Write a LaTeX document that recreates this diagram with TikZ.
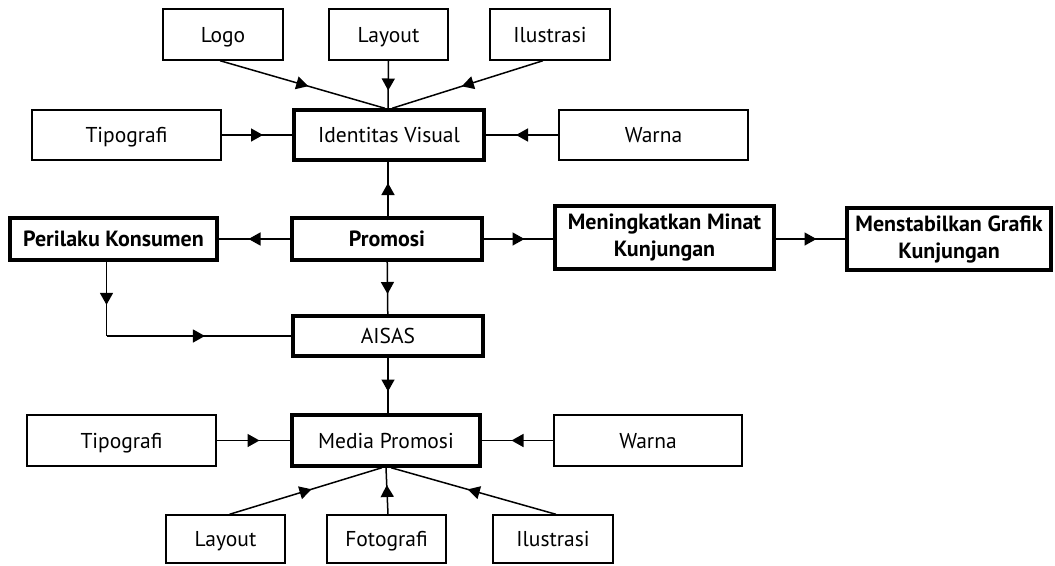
\documentclass[tikz,border=0pt]{standalone}
\usepackage{fontspec}
\setmainfont{PT Sans}
\usetikzlibrary{arrows.meta,decorations.markings}

\newlength{\du}
\setlength{\du}{1pt}

\tikzset{
  base/.style={draw, inner sep=0pt, align=center,
    font=\fontsize{21.5}{27}\selectfont},
  oneline/.style={text height=17pt, text depth=2pt},
  box/.style={base, oneline, line width=1.4\du},
  heavybox/.style={base, oneline, line width=3.4\du},
  keybox/.style={heavybox, font=\fontsize{22}{27}\selectfont\bfseries},
  stackbox/.style={base, line width=3.4\du, font=\fontsize{22}{27}\selectfont\bfseries},
  dims/.style 2 args={minimum width=#1\du, minimum height=#2\du},
  link/.style={line width=1.5\du},
  midarrow/.style={link, postaction={decorate}, decoration={markings,
    mark=at position 0.5 with {\arrow[xshift=6pt]{Triangle[length=12pt,width=13pt]}}}}
}

\begin{document}
\begin{tikzpicture}[x=\du,y=-\du]
\useasboundingbox (0,0) rectangle (1055,565);

% upper group
\node[heavybox, dims={190}{50}] (iv) at (389,135) {Identitas Visual};
\node[box, dims={120}{51}] (logo) at (223,34.5) {Logo};
\node[box, dims={119}{51}] (layoutA) at (388.5,34.5) {Layout};
\node[box, dims={120}{51}] (ilusA) at (550,34.5) {Ilustrasi};
\node[box, dims={189}{50}] (tipoA) at (126.5,135) {Tipografi};
\node[box, dims={189}{50}] (warnaA) at (653.5,135) {Warna};

% middle row
\node[keybox, dims={190}{42}] (promosi) at (387,239) {Promosi};
\node[keybox, dims={207}{42}] (perilaku) at (113.5,239) {Perilaku Konsumen};
\node[stackbox, dims={219}{63}] (minat) at (664.5,237.5) {Meningkatkan Minat\\Kunjungan};
\node[stackbox, dims={204}{62}] (grafik) at (949,239) {Menstabilkan Grafik\\Kunjungan};
\node[heavybox, dims={190}{40}] (aisas) at (388,336) {AISAS};
\coordinate (bend) at ([xshift=-7pt]perilaku.south |- aisas.west);

% lower group
\node[heavybox, dims={188}{51}] (media) at (386,440.5) {Media Promosi};
\node[box, dims={189}{51}] (tipoB) at (121.5,440.5) {Tipografi};
\node[box, dims={188}{51}] (warnaB) at (648,440.5) {Warna};
\node[box, dims={119}{48}] (layoutB) at (225.5,539) {Layout};
\node[box, dims={119}{48}] (foto) at (386.5,539) {Fotografi};
\node[box, dims={120}{48}] (ilusB) at (553,539) {Ilustrasi};

% connectors
\draw[midarrow] ([xshift=-3pt]logo.south) -- ([xshift=-4pt]iv.north);
\draw[midarrow] (layoutA.south) -- ([xshift=-1pt]iv.north);
\draw[midarrow] ([xshift=-7pt]ilusA.south) -- ([xshift=3pt]iv.north);
\draw[midarrow] (tipoA) -- (iv);
\draw[midarrow] (warnaA) -- (iv);
\draw[midarrow] ([xshift=1pt]promosi.north) -- ([xshift=-1pt]iv.south);
\draw[midarrow] (promosi) -- (perilaku);
\draw[midarrow] (promosi.east) -- (minat.west |- promosi.east);
\draw[midarrow] (minat.east |- grafik.west) -- (grafik.west);
\draw[midarrow] (promosi) -- (aisas);
\draw[midarrow] ([xshift=-7pt]perilaku.south) -- (bend);
\draw[midarrow] (bend) -- (aisas.west);
\draw[midarrow] (aisas.south) -- ([xshift=2pt]media.north);
\draw[midarrow] (tipoB) -- (media);
\draw[midarrow] (warnaB) -- (media);
\draw[midarrow] ([xshift=4pt]layoutB.north) -- ([xshift=-4pt]media.south);
\draw[midarrow] ([xshift=1.5pt]foto.north) -- (media.south);
\draw[midarrow] ([xshift=3pt]ilusB.north) -- ([xshift=5pt]media.south);
\end{tikzpicture}
\end{document}
